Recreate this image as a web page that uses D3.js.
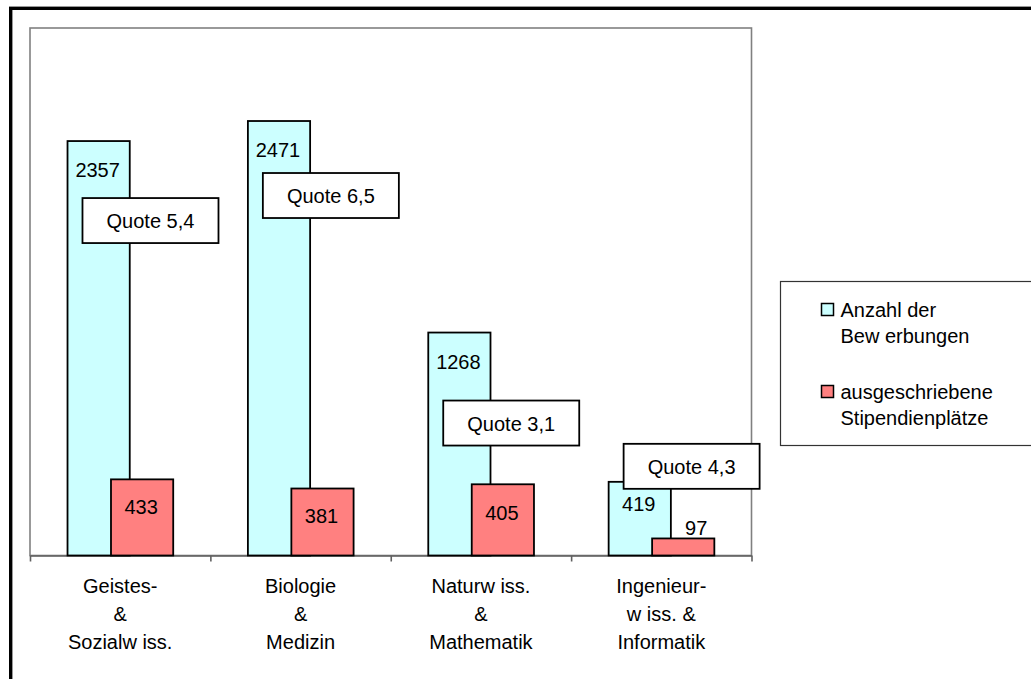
<!DOCTYPE html>
<html>
<head>
<meta charset="utf-8">
<script src="https://cdn.jsdelivr.net/npm/d3@7"></script>
<style>
  html, body { margin: 0; padding: 0; background: #fff; overflow: hidden; }
  svg { display: block; }
  text { font-family: "Liberation Sans", Arial, sans-serif; fill: #000; }
</style>
</head>
<body>
<script>
// ---- data ----
const categories = [
  ["Geistes-", "&", "Sozialw iss."],
  ["Biologie", "&", "Medizin"],
  ["Naturw iss.", "&", "Mathematik"],
  ["Ingenieur-", "w iss. &", "Informatik"]
];
const bewerbungen = [2357, 2471, 1268, 419];
const stipendien = [433, 381, 405, 97];
const quoten = ["Quote 5,4", "Quote 6,5", "Quote 3,1", "Quote 4,3"];
const seriesNames = [["Anzahl der", "Bew erbungen"], ["ausgeschriebene", "Stipendienplätze"]];
const seriesColors = ["#CCFFFF", "#FF8080"];

// ---- layout (pixel offsets, not data) ----
const quoteBoxOffset = [57, 52, 68, -38];   // box top relative to applications bar top
const cyanLabelDy = [36, 36, 36, 29];
const redLabelDy = [35, 34, 36, -3.5];
const redLabelDx = [-1, -1, -1, 13];

const W = 1031, H = 679;
const svg = d3.select("body").append("svg").attr("width", W).attr("height", H);
svg.append("rect").attr("width", W).attr("height", H).attr("fill", "#fff");

// outer frame
svg.append("rect").attr("x", 10.7).attr("y", 8.3).attr("width", 1200).attr("height", 1000)
  .attr("fill", "none").attr("stroke", "#000").attr("stroke-width", 3.4);

const plotL = 30, plotR = 751.5, plotT = 28, plotB = 555.5;
const x = d3.scaleBand().domain(d3.range(categories.length)).range([plotL, plotR]).padding(0);
const y = d3.scaleLinear().domain([0, 3000]).range([plotB, plotT]);
const bw = x.bandwidth();
const barW = bw * 0.345;
const cyanOff = bw * 0.208;
const redOff = bw * 0.449;

// plot area border
svg.append("rect").attr("x", plotL).attr("y", plotT).attr("width", plotR - plotL).attr("height", plotB - plotT)
  .attr("fill", "none").attr("stroke", "#808080").attr("stroke-width", 1.6);

// x axis
const xAxis = d3.axisBottom(d3.scaleLinear().domain([0, categories.length]).range([plotL, plotR]))
  .ticks(categories.length).tickFormat("").tickSize(6).tickSizeOuter(0);
const ax = svg.append("g").attr("transform", `translate(0,${plotB})`).call(xAxis);
ax.selectAll("path, line").attr("stroke", "#606060").attr("stroke-width", 1.6);

// bars
const idx = d3.range(categories.length);
svg.append("g").selectAll("rect").data(idx).join("rect")
  .attr("x", i => x(i) + cyanOff).attr("y", i => y(bewerbungen[i]))
  .attr("width", barW).attr("height", i => y(0) - y(bewerbungen[i]))
  .attr("fill", seriesColors[0]).attr("stroke", "#000").attr("stroke-width", 1.8);
svg.append("g").selectAll("rect").data(idx).join("rect")
  .attr("x", i => x(i) + redOff).attr("y", i => y(stipendien[i]))
  .attr("width", barW).attr("height", i => y(0) - y(stipendien[i]))
  .attr("fill", seriesColors[1]).attr("stroke", "#000").attr("stroke-width", 1.8);

// value labels
svg.append("g").selectAll("text").data(idx).join("text")
  .attr("x", i => x(i) + cyanOff + barW / 2 - 1).attr("y", i => y(bewerbungen[i]) + cyanLabelDy[i])
  .attr("text-anchor", "middle").attr("font-size", 20).text(i => bewerbungen[i]);
svg.append("g").selectAll("text").data(idx).join("text")
  .attr("x", i => x(i) + redOff + barW / 2 + redLabelDx[i]).attr("y", i => y(stipendien[i]) + redLabelDy[i])
  .attr("text-anchor", "middle").attr("font-size", 20).text(i => stipendien[i]);

// quote boxes
const qg = svg.append("g").selectAll("g").data(idx).join("g")
  .attr("transform", i => `translate(${x(i) + bw * 0.291},${y(bewerbungen[i]) + quoteBoxOffset[i]})`);
qg.append("rect").attr("width", 136).attr("height", 45)
  .attr("fill", "#fff").attr("stroke", "#000").attr("stroke-width", 1.8);
qg.append("text").attr("x", 68).attr("y", 30).attr("text-anchor", "middle")
  .attr("font-size", 20).text(i => quoten[i]);

// category labels
const cg = svg.append("g").selectAll("text").data(idx).join("text")
  .attr("text-anchor", "middle").attr("font-size", 20);
cg.each(function(i) {
  d3.select(this).selectAll("tspan").data(categories[i]).join("tspan")
    .attr("x", x(i) + bw / 2).attr("y", (d, k) => 592.5 + k * 28).text(d => d);
});

// legend
const lg = svg.append("g");
lg.append("rect").attr("x", 780.5).attr("y", 281.5).attr("width", 400).attr("height", 164)
  .attr("fill", "#fff").attr("stroke", "#333").attr("stroke-width", 1.2);
const legendTop = [303.5, 385.5];
seriesNames.forEach((names, s) => {
  lg.append("rect").attr("x", 821.5).attr("y", legendTop[s]).attr("width", 12).attr("height", 12)
    .attr("fill", seriesColors[s]).attr("stroke", "#000").attr("stroke-width", 1.5);
  names.forEach((t, k) => {
    lg.append("text").attr("x", 840.5).attr("y", legendTop[s] + 13.2 + k * 26)
      .attr("font-size", 20).text(t);
  });
});
</script>
</body>
</html>
